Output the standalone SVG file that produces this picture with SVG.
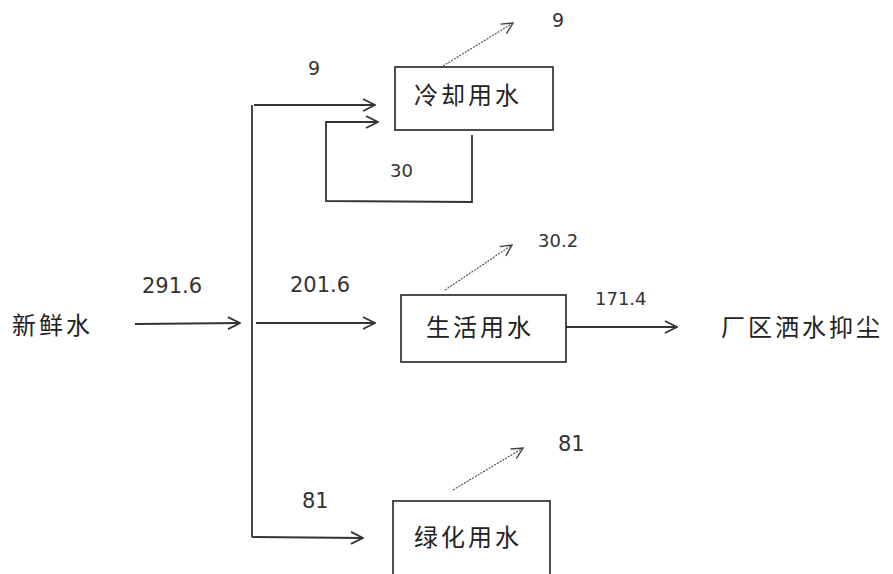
<svg xmlns="http://www.w3.org/2000/svg" width="893" height="574" viewBox="0 0 893 574">
<style>
.box{fill:#fff;stroke:#222;stroke-width:1.6}
.cjk{font-family:"Noto Sans CJK SC","Noto Sans",sans-serif;font-size:24px;fill:#222;letter-spacing:3px}
.num{font-family:"DejaVu Sans",sans-serif;fill:#333}
.ln{fill:none;stroke:#333;stroke-width:1.8}
.dot{fill:none;stroke:#555;stroke-width:1.2;stroke-dasharray:2 1.2}
</style>
<defs>
<marker id="ah" viewBox="0 0 14 14" refX="13" refY="7" markerWidth="14" markerHeight="14" markerUnits="userSpaceOnUse" orient="auto">
<path d="M1,1 L13,7 L1,13" fill="none" stroke="#333" stroke-width="1.8"/>
</marker>
<marker id="ahs" viewBox="0 0 14 14" refX="13" refY="7" markerWidth="13" markerHeight="13" markerUnits="userSpaceOnUse" orient="auto">
<path d="M1,1 L13,7 L1,13" fill="none" stroke="#444" stroke-width="1.5"/>
</marker>
</defs>
<rect width="893" height="574" fill="#fff"/>
<g id="connectors">
<path class="ln" d="M135,324 L240,323" marker-end="url(#ah)"/>
<path class="ln" d="M252,105 L252,537"/>
<path class="ln" d="M254,105 L375,105" marker-end="url(#ah)"/>
<path class="ln" d="M256,323 L375,323" marker-end="url(#ah)"/>
<path class="ln" d="M252,537 L363,538" marker-end="url(#ah)"/>
<path class="ln" d="M472,135 L472,202 L326,201 L326,122 L378,122" marker-end="url(#ah)"/>
<path class="ln" d="M566,327 L677,327" marker-end="url(#ah)"/>
<path class="dot" d="M443,66 L513,23" marker-end="url(#ahs)"/>
<path class="dot" d="M445,290 L512,245" marker-end="url(#ahs)"/>
<path class="dot" d="M453,490 L523,448" marker-end="url(#ahs)"/>
</g>
<g id="fresh-water"><text class="cjk" x="12" y="334">新鲜水</text></g>
<g id="cooling">
<rect class="box" x="395" y="67" width="158" height="63"/>
<text class="cjk" x="414" y="104">冷却用水</text>
</g>
<g id="domestic">
<rect class="box" x="401" y="295" width="165" height="67"/>
<text class="cjk" x="426" y="336">生活用水</text>
</g>
<g id="greening">
<rect class="box" x="393" y="501" width="157" height="80"/>
<text class="cjk" x="414" y="546">绿化用水</text>
</g>
<g id="dust"><text class="cjk" x="721" y="336">厂区洒水抑尘</text></g>
<g id="labels">
<text class="num" x="142" y="293" font-size="21">291.6</text>
<text class="num" x="290" y="292" font-size="21">201.6</text>
<text class="num" x="308" y="75" font-size="19">9</text>
<text class="num" x="552" y="27" font-size="19">9</text>
<text class="num" x="390" y="177" font-size="18">30</text>
<text class="num" x="538" y="247" font-size="18">30.2</text>
<text class="num" x="595" y="305" font-size="18">171.4</text>
<text class="num" x="558" y="451" font-size="21">81</text>
<text class="num" x="302" y="508" font-size="21">81</text>
</g>
</svg>
